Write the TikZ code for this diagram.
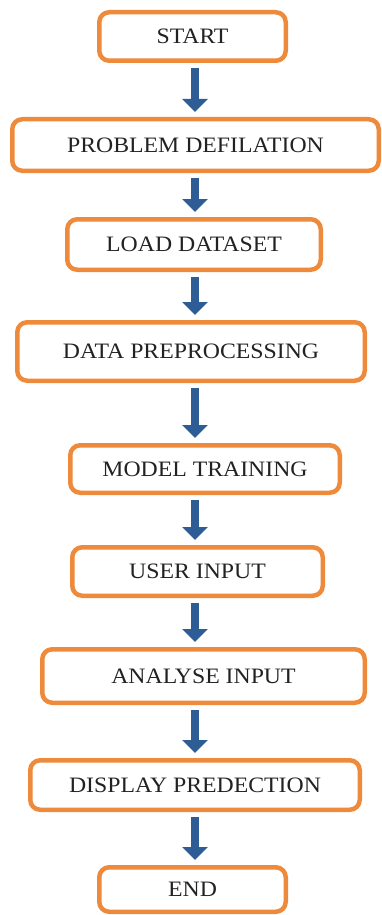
\documentclass[tikz,border=0pt]{standalone}
\usepackage{fontspec}
\setmainfont{Liberation Serif}
\usetikzlibrary{arrows.meta}
\definecolor{boxorange}{HTML}{EE8A3C}
\definecolor{arrowblue}{HTML}{2E5D95}
\definecolor{txt}{HTML}{222222}
\tikzset{
  stepbox/.style={draw=boxorange, line width=4.5pt, rounded corners=10pt, fill=white,
    inner sep=0pt, text=txt, font=\fontsize{22}{26}\selectfont},
  barrow/.style={draw=arrowblue, line width=8pt, shorten <=5pt, shorten >=5pt,
    -{Triangle[width=25pt,length=13pt]}}
}
\newcommand{\lbl}[1]{\scalebox{1.08}[1]{#1}}
\begin{document}
\begin{tikzpicture}[x=1pt,y=-1pt]
\useasboundingbox (0,0) rectangle (382,915);
\node[stepbox, minimum width=186.5pt, minimum height=48.5pt] (n1) at (192.5,36.5) {\lbl{START}};
\node[stepbox, minimum width=366.5pt, minimum height=51.5pt] (n2) at (195.5,145) {\lbl{PROBLEM DEFILATION}};
\node[stepbox, minimum width=253.5pt, minimum height=50.5pt] (n3) at (194,244.5) {\lbl{LOAD DATASET}};
\node[stepbox, minimum width=347.5pt, minimum height=58.5pt] (n4) at (191,351.5) {\lbl{DATA PREPROCESSING}};
\node[stepbox, minimum width=269.5pt, minimum height=47.5pt] (n5) at (205,469) {\lbl{MODEL TRAINING}};
\node[stepbox, minimum width=250.5pt, minimum height=48.5pt] (n6) at (197.5,571.5) {\lbl{USER INPUT}};
\node[stepbox, minimum width=322.5pt, minimum height=53.5pt] (n7) at (203.5,676) {\lbl{ANALYSE INPUT}};
\node[stepbox, minimum width=329.5pt, minimum height=49.5pt] (n8) at (195,785) {\lbl{DISPLAY PREDECTION}};
\node[stepbox, minimum width=186.5pt, minimum height=44.5pt] (n9) at (192.5,889.5) {\lbl{END}};
\coordinate (ax) at (195,0);
\foreach \a/\b in {n1/n2,n2/n3,n3/n4,n4/n5,n5/n6,n6/n7,n7/n8,n8/n9}{
  \draw[barrow] (\a.south -| ax) -- (\b.north -| ax);
}
\end{tikzpicture}
\end{document}
